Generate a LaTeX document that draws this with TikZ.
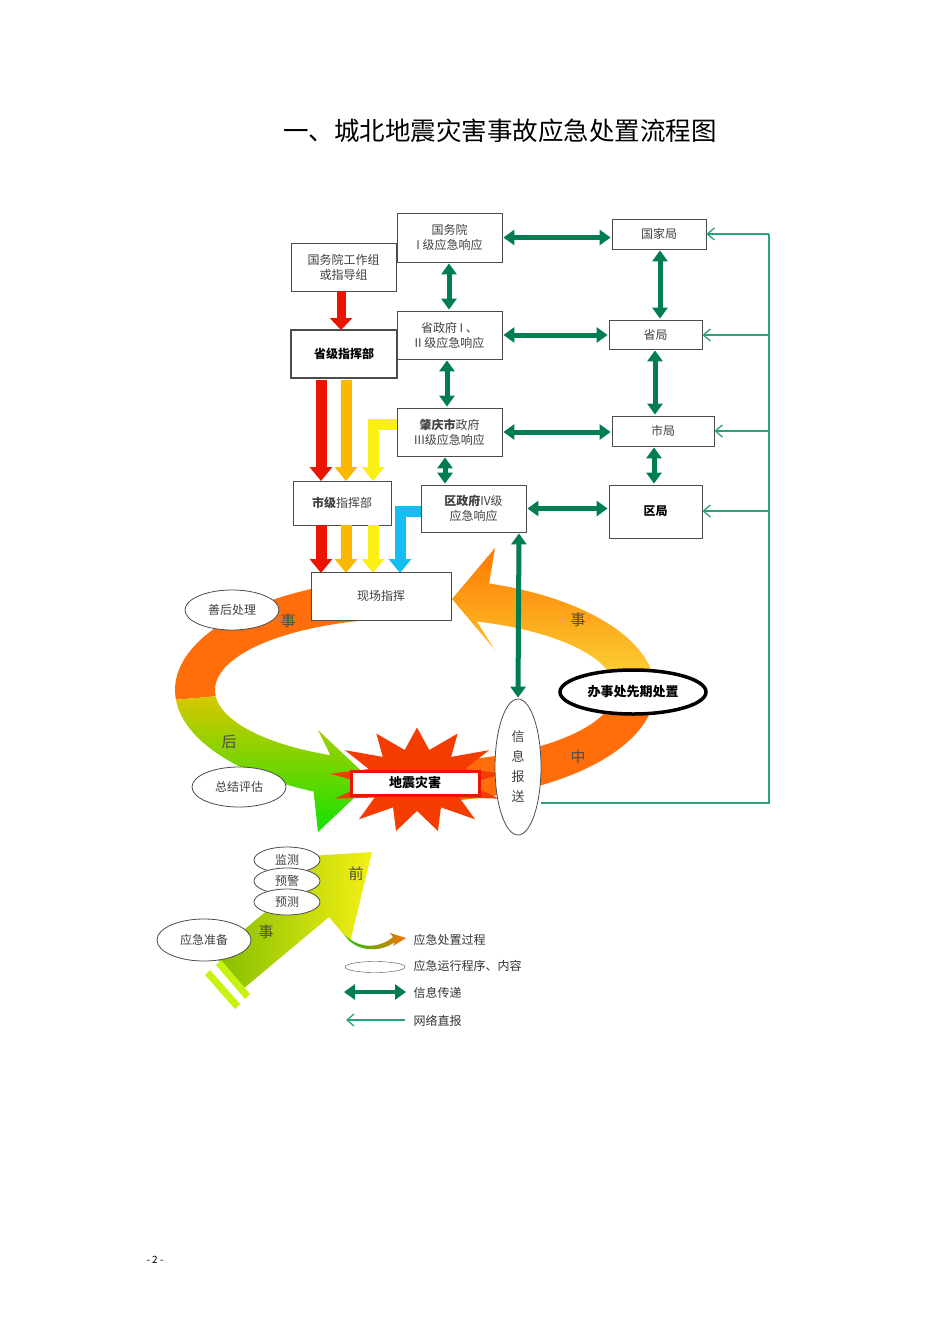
\documentclass[tikz,border=0pt]{standalone}
\usepackage{fontspec}
\setmainfont{Noto Sans CJK SC}
\usetikzlibrary{arrows.meta,shapes.geometric}
\definecolor{dg}{RGB}{0,125,85}
\definecolor{lg}{RGB}{40,165,120}
\definecolor{rd}{RGB}{235,20,0}
\definecolor{og}{RGB}{250,185,0}
\definecolor{yl}{RGB}{250,240,20}
\definecolor{bl}{RGB}{20,190,240}
\definecolor{ring}{RGB}{255,110,10}
\tikzset{
 box/.style={draw=black!70,fill=white,line width=0.8pt,align=center,font=\fontsize{12}{15}\selectfont\color{black!75},inner sep=2pt},
 dbl/.style={draw=dg,line width=5pt,{Triangle[length=11pt,width=15pt]}-{Triangle[length=11pt,width=15pt]},shorten <=1pt,shorten >=1pt},
 net/.style={draw=lg,line width=1.3pt,-{Straight Barb[length=7pt,width=12pt]}},
 big/.style={line width=11pt,-{Triangle[length=14pt,width=22pt]}},
 ov/.style={ellipse,draw=black!70,fill=white,line width=0.8pt,font=\fontsize{12}{14}\selectfont\color{black!75},inner sep=1pt},
 lab/.style={font=\fontsize{15}{17}\selectfont\color{black!70}}
}
\begin{document}
\begin{tikzpicture}[x=1pt,y=-1pt]
\useasboundingbox[fill=white] (0,0) rectangle (950,1344);
\node[font=\fontsize{25.5}{28}\selectfont] (title) at (500,131) {一、城北地震灾害事故应急处置流程图};
\node[font=\fontsize{10}{12}\selectfont] (pg) at (155,1260) {- 2 -};

% ---- ring ----
\fill[ring] plot[domain=100:185,samples=40] ({415+240*cos(\x)},{690-112*sin(\x)})
  -- plot[domain=185:100,samples=40] ({415+200*cos(\x)},{690-72*sin(\x)}) -- cycle;
\shade[top color={rgb,255:red,215;green,200;blue,0},bottom color={rgb,255:red,20;green,225;blue,0}]
  plot[domain=185:245,samples=30] ({415+240*cos(\x)},{690-112*sin(\x)})
  -- (318,832) -- (372,781) -- (318,730)
  -- plot[domain=245:185,samples=30] ({415+200*cos(\x)},{690-72*sin(\x)}) -- cycle;
\fill[ring] plot[domain=280:355,samples=30] ({415+240*cos(\x)},{690-112*sin(\x)})
  -- plot[domain=355:280,samples=30] ({415+200*cos(\x)},{690-72*sin(\x)}) -- cycle;
\shade[top color={rgb,255:red,255;green,120;blue,0},bottom color={rgb,255:red,250;green,225;blue,60}]
  plot[domain=-5:72,samples=30] ({415+240*cos(\x)},{690-112*sin(\x)})
  -- (495,548) -- (452,599) -- (495,650)
  -- plot[domain=72:-5,samples=30] ({415+200*cos(\x)},{690-72*sin(\x)}) -- cycle;
\node[lab] (s1) at (288,621) {事};
\node[lab] (s2) at (229,742) {后};
\node[lab] (s3) at (578,620) {事};
\node[lab] (s4) at (578,757) {中};

% ---- starburst ----
\node[star,star points=13,star point ratio=1.7,minimum size=175pt,yscale=0.6,fill={rgb,255:red,245;green,60;blue,0},inner sep=0] (burst) at (417,780) {};
\node[fill=white,draw=rd,line width=3pt,minimum width=128pt,minimum height=24pt,font=\bfseries\fontsize{13}{15}\selectfont] (dz) at (415,783) {地震灾害};

% ---- 事前 arrow ----
\shade[left color={rgb,255:red,130;green,190;blue,0},right color={rgb,255:red,245;green,240;blue,20}]
 (214,955) -- (300,883) -- (279,858) -- (372,852) -- (350,942) -- (329,917) -- (243,989) -- cycle;
\fill[yl!80!green] (205,975) -- (210,970) -- (240,1004) -- (235,1009) -- cycle;
\fill[yl!80!green] (216,965) -- (221,960) -- (250,994) -- (245,999) -- cycle;
\node[lab] (q1) at (356,874) {前};
\node[lab] (q2) at (266,932) {事};

% ---- boxes ----
\node[box,minimum width=105pt,minimum height=49pt] (gwy) at (449.5,237.5) {国务院\\I 级应急响应};
\node[box,minimum width=105pt,minimum height=48pt] (gzz) at (343.5,267) {国务院工作组\\或指导组};
\node[box,line width=1.4pt,minimum width=106pt,minimum height=48pt,font=\bfseries\fontsize{12}{15}\selectfont] (sjz) at (344,354) {省级指挥部};
\node[box,minimum width=105pt,minimum height=48pt] (szf) at (449.5,335) {省政府 I 、\\II 级应急响应};
\node[box,minimum width=105pt,minimum height=48pt] (zq) at (449.5,432) {\textbf{肇庆市}政府\\III级应急响应};
\node[box,minimum width=98pt,minimum height=44pt] (shj) at (342,503) {\textbf{市级}指挥部};
\node[box,minimum width=105pt,minimum height=47pt] (qzf) at (473.5,508.5) {\textbf{区政府}IV级\\应急响应};
\node[box,minimum width=94pt,minimum height=30pt] (gjj) at (659,234) {国家局};
\node[box,minimum width=93pt,minimum height=29pt] (sj) at (655.5,334.5) {省局};
\node[box,minimum width=102pt,minimum height=30pt] (shiju) at (663,431) {市局};
\node[box,minimum width=93pt,minimum height=53pt,font=\bfseries\fontsize{12}{15}\selectfont] (qj) at (655.5,511.5) {区局};

% ---- colored down arrows ----
\draw[big,draw=rd,-{Triangle[length=12pt,width=22pt]},line width=9pt] (gzz.south -| 341,0) -- (341,330);
\draw[big,draw=rd] (321,380) -- (321,481);
\draw[big,draw=og] (346,380) -- (346,481);
\draw[big,draw=yl] (zq.west |- 0,424) -| (373,481);
\draw[big,draw=rd] (321,525) -- (321,573);
\draw[big,draw=og] (346,525) -- (346,573);
\draw[big,draw=yl] (373,525) -- (373,573);
\draw[big,draw=bl] (qzf.west |- 0,511) -| (400,573);
\node[box,minimum width=140pt,minimum height=48pt] (xc) at (381,596) {现场指挥};

% ---- ellipses ----
\node[ov,minimum width=94pt,minimum height=40pt] (sh) at (232,610) {善后处理};
\node[ov,minimum width=94pt,minimum height=40pt] (zj) at (239,787) {总结评估};
\node[ov,minimum width=66pt,minimum height=26pt] (jc) at (287,860) {监测};
\node[ov,minimum width=66pt,minimum height=26pt] (yj) at (287,881) {预警};
\node[ov,minimum width=66pt,minimum height=26pt] (yc) at (287,902) {预测};
\node[ov,minimum width=94pt,minimum height=42pt] (zb) at (204,940) {应急准备};
\node[ov,minimum width=46pt,minimum height=136pt,align=center,font=\fontsize{13}{20}\selectfont\color{black!75}] (xx) at (518,767) {信\\息\\报\\送};
\node[ellipse,draw=black,fill=white,line width=3.5pt,minimum width=146pt,minimum height=44pt,font=\bfseries\fontsize{13}{15}\selectfont,inner sep=0] (bsc) at (633,692) {办事处先期处置};

% ---- information arrows ----
\draw[dbl] (gwy.east) -- (gjj.west |- gwy.east);
\draw[dbl] (gwy.south -| 449,0) -- (szf.north -| 449,0);
\draw[dbl] (szf.east) -- (sj.west |- szf.east);
\draw[dbl] (szf.south -| 447,0) -- (zq.north -| 447,0);
\draw[dbl] (zq.east) -- (shiju.west |- zq.east);
\draw[dbl] (zq.south -| 445,0) -- (qzf.north -| 445,0);
\draw[dbl] (qzf.east) -- (qj.west |- qzf.east);
\draw[dbl] (gjj.south -| 660,0) -- (sj.north -| 660,0);
\draw[dbl] (sj.south -| 655,0) -- (shiju.north -| 655,0);
\draw[dbl] (shiju.south -| 654,0) -- (qj.north -| 654,0);
\draw[dbl] (qzf.south -| 519,0) -- (xx.north);

% ---- network direct report ----
\coordinate (nb) at (769,803);
\coordinate (nt) at (769,234);
\draw[lg,line width=1.3pt] (xx.east |- nb) -- (nb) -- (nt);
\draw[net] (nt) -- (gjj.east);
\draw[net] (769,335) -- (sj.east |- 0,335);
\draw[net] (769,431) -- (shiju.east |- 0,431);
\draw[net] (769,511) -- (qj.east |- 0,511);

% ---- legend ----
\shade[left color={rgb,255:red,20;green,200;blue,0},right color=ring] (345,935) .. controls (360,950) and (380,948) .. (393,937) -- (390,933) -- (406,938) -- (393,946) -- (395,942) .. controls (380,953) and (355,952) .. (345,935) -- cycle;
\node[font=\fontsize{12}{14}\selectfont\color{black!80},anchor=west] (t1) at (410,940) {应急处置过程};
\node[ellipse,draw=black!70,minimum width=60pt,minimum height=11pt,inner sep=0] (le) at (375,967) {};
\node[font=\fontsize{12}{14}\selectfont\color{black!80},anchor=west] (t2) at (410,966) {应急运行程序、内容};
\coordinate (l3a) at (343,992);
\coordinate (l3b) at (407,992);
\draw[dbl,line width=4pt] (l3a) -- (l3b);
\node[font=\fontsize{12}{14}\selectfont\color{black!80},anchor=west] (t3) at (410,993) {信息传递};
\coordinate (l4a) at (405,1020);
\coordinate (l4b) at (346,1020);
\draw[net] (l4a) -- (l4b);
\node[font=\fontsize{12}{14}\selectfont\color{black!80},anchor=west] (t4) at (410,1021) {网络直报};
\end{tikzpicture}
\end{document}
